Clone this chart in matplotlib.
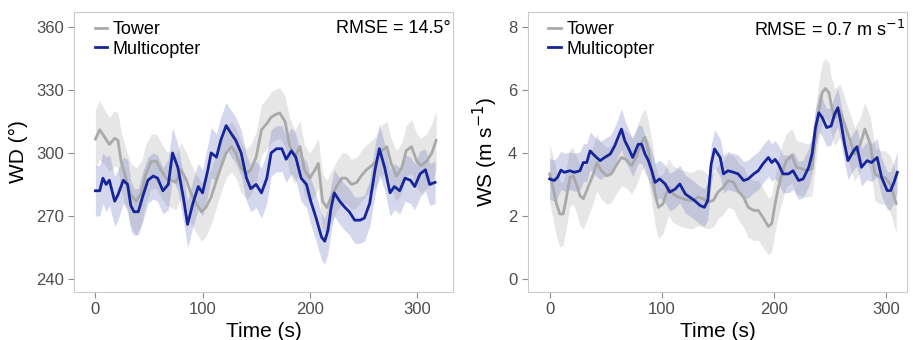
import matplotlib.pyplot as plt

plt.rcParams['font.family'] = ['Liberation Sans', 'DejaVu Sans']

# wind direction, tower
wd_tower_t = [0, 4, 8, 13, 18, 21, 24, 29, 33, 38, 43, 47, 52, 57, 61, 66, 71, 75, 80, 85,
              89, 94, 99, 103, 108, 113, 117, 122, 127, 131, 136, 141, 145, 150, 155, 160, 164, 169, 172, 177,
              181, 186, 191, 195, 200, 205, 208, 212, 216, 220, 225, 230, 234, 239, 244, 248, 253, 258, 262, 267,
              272, 276, 281, 286, 290, 295, 300, 304, 309, 314, 318]
wd_tower = [306.6, 311, 308, 304, 307, 306, 296, 287, 280, 277, 281, 290, 296, 296, 292, 288, 287, 286, 292, 287,
            281, 276, 272, 274, 279, 287, 293, 300, 303, 300, 293, 290, 292, 298, 311, 314, 317, 318.5, 319, 315,
            304, 298, 303, 292, 288, 292, 295, 277, 274, 279, 284, 288, 288, 285, 286, 289, 292, 294, 296, 301,
            303, 295, 289, 293, 301, 303, 296, 294, 296, 300, 306]
wd_tower_sd = [14, 14, 13, 13, 13, 13, 14, 14, 15, 16, 15, 14, 13, 13, 13, 13, 13, 13, 13, 13,
               14, 14, 14, 14, 13, 13, 12, 12, 12, 12, 12, 12, 12, 12, 12, 12, 12, 12, 12, 12,
               13, 13, 12, 12, 12, 12, 12, 13, 13, 12, 12, 12, 12, 12, 12, 12, 12, 12, 12, 12,
               12, 12, 12, 12, 12, 13, 13, 13, 13, 14, 14]

# wind direction, multicopter
wd_copter_t = [0, 4, 7, 10, 13, 18, 21, 26, 30, 33, 36, 40, 44, 49, 54, 58, 63, 68, 72, 77,
               82, 86, 91, 96, 100, 105, 108, 113, 117, 122, 127, 131, 136, 141, 145, 150, 155, 160, 164, 169,
               174, 178, 183, 187, 192, 197, 201, 206, 211, 214, 217, 220, 223, 228, 233, 237, 242, 247, 251, 256,
               261, 265, 270, 275, 279, 284, 289, 294, 298, 303, 308, 312, 317]
wd_copter = [282, 282, 288, 285, 287, 277, 280, 287, 285, 275, 272, 272, 279, 287, 289, 288, 282, 285, 300, 293,
             279, 266, 276, 284, 281, 292, 300, 298, 306, 313, 309, 306, 300, 288, 283, 285, 281, 288, 300, 302,
             302, 297, 301, 298, 288, 285, 277, 269, 260, 258, 263, 274, 281, 277, 274, 272, 268, 268, 269, 276,
             292, 302, 293, 281, 284, 282, 288, 287, 284, 290, 292, 285, 286]
wd_copter_sd = [12, 12, 12, 13, 12, 12, 12, 11, 12, 12, 11, 11, 12, 11, 11, 11, 11, 12, 12, 11,
                11, 11, 11, 11, 11, 12, 12, 11, 11, 11, 11, 11, 11, 11, 11, 11, 12, 12, 11, 11,
                11, 11, 11, 11, 11, 11, 11, 11, 11, 11, 11, 11, 11, 11, 11, 11, 11, 11, 11, 11,
                12, 12, 11, 11, 11, 11, 11, 11, 11, 11, 10, 10, 10]

# wind speed, tower
ws_tower_t = [0, 3, 6, 9, 12, 15, 18, 21, 24, 27, 30, 34, 39, 42, 46, 51, 55, 60, 64, 68,
              73, 77, 82, 85, 88, 91, 94, 97, 101, 106, 110, 115, 119, 124, 128, 132, 137, 141, 146, 150,
              155, 159, 164, 168, 173, 177, 182, 186, 190, 195, 198, 201, 204, 207, 211, 216, 220, 225, 229, 234,
              237, 240, 243, 246, 249, 251, 254, 259, 263, 268, 272, 277, 281, 286, 290, 295, 299, 304, 309]
ws_tower = [3.34, 2.9, 2.4, 2.07, 2.07, 2.6, 3.23, 3.28, 3.0, 2.65, 2.55, 2.9, 3.34, 3.7, 3.44, 3.28, 3.34, 3.65, 3.86, 3.8,
            3.6, 3.86, 4.34, 4.5, 4.07, 3.44, 2.7, 2.28, 2.39, 2.92, 2.7, 2.6, 2.55, 2.5, 2.5, 2.6, 2.55, 2.44, 2.5, 2.76,
            2.92, 3.13, 3.07, 2.8, 2.6, 2.28, 2.18, 2.18, 1.97, 1.67, 1.76, 2.39, 2.92, 3.34, 3.76, 3.92, 3.55, 3.5, 3.44, 3.5,
            4.5, 5.34, 5.92, 6.05, 5.92, 5.55, 5.13, 5.34, 4.92, 4.39, 3.97, 4.28, 4.76, 4.28, 3.34, 3.23, 3.23, 3.0, 2.4]
ws_tower_sd = [0.95, 1.0, 1.05, 1.05, 1.0, 0.95, 0.9, 0.9, 0.9, 0.95, 0.95, 0.95, 0.9, 0.9, 0.9, 0.9, 0.9, 0.9, 0.9, 0.9,
               0.9, 0.9, 0.9, 0.9, 0.95, 1.0, 1.0, 1.0, 0.95, 0.9, 0.9, 0.9, 0.9, 0.9, 0.9, 0.9, 0.9, 0.85, 0.85, 0.85,
               0.85, 0.85, 0.85, 0.9, 0.95, 0.95, 0.95, 0.95, 0.95, 0.9, 0.9, 0.9, 0.9, 0.9, 0.85, 0.85, 0.85, 0.85, 0.85, 0.85,
               0.9, 0.9, 0.95, 0.95, 0.95, 0.9, 0.9, 0.85, 0.85, 0.85, 0.85, 0.85, 0.85, 0.85, 0.85, 0.85, 0.85, 0.9, 0.95]

# wind speed, multicopter
ws_copter_t = [0, 4, 7, 10, 13, 18, 22, 27, 30, 33, 36, 40, 45, 49, 54, 58, 61, 64, 67, 70,
               74, 79, 82, 85, 88, 91, 94, 98, 103, 107, 112, 116, 121, 125, 129, 134, 138, 141, 144, 147,
               152, 155, 159, 164, 168, 173, 177, 182, 186, 190, 195, 198, 201, 204, 208, 213, 217, 222, 226, 231,
               234, 237, 240, 243, 247, 251, 254, 257, 260, 263, 266, 271, 274, 278, 283, 287, 292, 296, 301, 304,
               307, 310]
ws_copter = [3.18, 3.13, 3.23, 3.46, 3.39, 3.44, 3.39, 3.44, 3.7, 3.7, 4.07, 3.92, 3.76, 3.86, 3.97, 4.23, 4.5, 4.76, 4.39, 4.18,
             3.86, 4.28, 4.28, 3.97, 3.76, 3.44, 3.07, 3.18, 3.02, 2.76, 2.86, 3.02, 2.7, 2.6, 2.5, 2.34, 2.28, 2.5, 3.65, 4.13,
             3.86, 3.34, 3.44, 3.39, 3.34, 3.13, 3.18, 3.34, 3.44, 3.65, 3.86, 3.7, 3.8, 3.65, 3.34, 3.34, 3.44, 3.13, 3.18, 3.55,
             3.97, 4.81, 5.28, 5.13, 4.81, 4.86, 5.23, 5.44, 4.92, 4.28, 3.76, 4.07, 4.2, 3.55, 3.76, 3.7, 3.86, 3.23, 2.81, 2.81,
             3.07, 3.39]
ws_copter_sd = [0.65, 0.65, 0.65, 0.6, 0.6, 0.6, 0.6, 0.6, 0.6, 0.6, 0.6, 0.6, 0.6, 0.6, 0.6, 0.6, 0.6, 0.65, 0.65, 0.6,
                0.6, 0.6, 0.6, 0.6, 0.6, 0.6, 0.6, 0.6, 0.6, 0.6, 0.6, 0.6, 0.6, 0.6, 0.6, 0.6, 0.6, 0.6, 0.6, 0.6,
                0.6, 0.6, 0.6, 0.6, 0.6, 0.6, 0.6, 0.6, 0.6, 0.6, 0.6, 0.6, 0.6, 0.6, 0.6, 0.6, 0.6, 0.6, 0.6, 0.6,
                0.6, 0.6, 0.6, 0.6, 0.6, 0.6, 0.6, 0.6, 0.6, 0.6, 0.6, 0.6, 0.6, 0.6, 0.6, 0.6, 0.6, 0.6, 0.6, 0.6,
                0.65, 0.65]

wd_ticks = [240, 270, 300, 330, 360]
ws_ticks = [0, 2, 4, 6, 8]
time_ticks = [0, 100, 200, 300]

tower_col = '#a9a9a9'
copter_col = '#17259a'


def panel(ax, t1, y1, s1, t2, y2, s2, ylabel, rmse, yticks, ylim, xlim):
    ax.fill_between(t1, [a - b for a, b in zip(y1, s1)], [a + b for a, b in zip(y1, s1)],
                    color='#cfcfcf', alpha=0.5, lw=0)
    ax.fill_between(t2, [a - b for a, b in zip(y2, s2)], [a + b for a, b in zip(y2, s2)],
                    color='#6a72bd', alpha=0.28, lw=0)
    ax.plot(t1, y1, color=tower_col, lw=2, label='Tower')
    ax.plot(t2, y2, color=copter_col, lw=2, label='Multicopter')
    ax.set_xlim(xlim)
    ax.set_ylim(ylim)
    ax.set_xticks(time_ticks)
    ax.set_yticks(yticks)
    ax.tick_params(colors='#8c8c8c', labelcolor='#4d4d4d', labelsize=12, length=4)
    for s in ax.spines.values():
        s.set_color('#cccccc')
    ax.set_xlabel('Time (s)', fontsize=15, labelpad=3)
    ax.set_ylabel(ylabel, fontsize=15, labelpad=6)
    ax.legend(loc='upper left', frameon=False, fontsize=13, handlelength=0.7,
              handletextpad=0.3, labelspacing=0.15, borderaxespad=0.1,
              bbox_to_anchor=(0.03, 1.0))
    ax.text(0.995, 0.97, rmse, transform=ax.transAxes, ha='right', va='top', fontsize=13)


fig = plt.figure(figsize=(9.13, 3.4), dpi=100)
ax1 = fig.add_axes([0.0815, 0.141, 0.4145, 0.824])
ax2 = fig.add_axes([0.578, 0.141, 0.4155, 0.824])

panel(ax1, wd_tower_t, wd_tower, wd_tower_sd, wd_copter_t, wd_copter, wd_copter_sd,
      'WD (°)', 'RMSE = 14.5°', wd_ticks, (233.8, 367.1), (-19.6, 333.6))
panel(ax2, ws_tower_t, ws_tower, ws_tower_sd, ws_copter_t, ws_copter, ws_copter_sd,
      'WS (m s$^{-1}$)', 'RMSE = 0.7 m s$^{-1}$', ws_ticks, (-0.41, 8.48), (-19.6, 318.7))

plt.savefig('out.png', dpi=100)
